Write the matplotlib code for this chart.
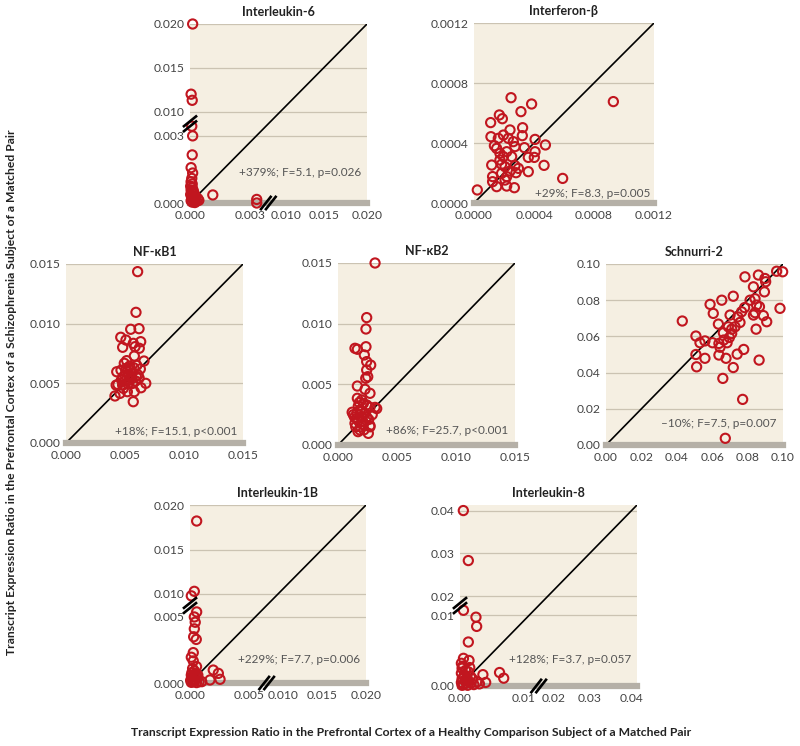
#!/usr/bin/env python3
"""
Matched-pair scatter panels: schizophrenia vs healthy comparison transcript ratios.
"""

import numpy as np
import matplotlib
matplotlib.use("Agg")
import matplotlib.pyplot as plt
import matplotlib.transforms as mtransforms

plt.rcParams['font.family'] = ['Lato', 'DejaVu Sans']

# ---- data (healthy x, schizophrenia y) ----
il6_x = [0.00012, 0.00005, 0.00010, 0.00008, 0.00012, 0.00010, 0.00005, 0.00012, 0.00008, 0.00005,
         0.00010, 0.00003, 0.00010, 0.00005, 0.00015, 0.00008, 0.00020, 0.00003, 0.00012, 0.00025,
         0.00035, 0.00018, 0.00005, 0.00030, 0.00010, 0.00022, 0.00040, 0.00015, 0.00008, 0.00103,
         0.0031, 0.0031]
il6_y = [0.0200, 0.0120, 0.0113, 0.0058, 0.0030, 0.00215, 0.00158, 0.00134, 0.00110, 0.00095,
         0.00085, 0.00075, 0.00068, 0.00058, 0.00055, 0.00048, 0.00040, 0.00038, 0.00030, 0.00025,
         0.00020, 0.00012, 0.00010, 0.00008, 0.00004, 0.00002, 0.00012, 0.00018, 0.00022, 0.00036,
         0.00016, 0.00000]

ifnb_x = [0.000022, 0.000247, 0.000384, 0.000313, 0.000929, 0.000111, 0.000169, 0.000189, 0.000324,
          0.000113, 0.000196, 0.000322, 0.000407, 0.000476, 0.000136, 0.000229, 0.000262, 0.000273,
          0.000336, 0.000407, 0.000151, 0.000173, 0.000218, 0.000173, 0.000251, 0.000362, 0.000402,
          0.000118, 0.000184, 0.000207, 0.000273, 0.000296, 0.000467, 0.000362, 0.000280, 0.000240,
          0.000124, 0.000124, 0.000207, 0.000218, 0.000591, 0.000151, 0.000218, 0.000269, 0.000184,
          0.000196, 0.000162, 0.000240]
ifnb_y = [0.000087, 0.000702, 0.000660, 0.000609, 0.000676, 0.000536, 0.000587, 0.000562, 0.000502,
          0.000442, 0.000453, 0.000449, 0.000424, 0.000387, 0.000382, 0.000431, 0.000409, 0.000376,
          0.000369, 0.000342, 0.000364, 0.000331, 0.000342, 0.000287, 0.000309, 0.000304, 0.000304,
          0.000253, 0.000258, 0.000242, 0.000249, 0.000231, 0.000251, 0.000209, 0.000202, 0.000213,
          0.000176, 0.000142, 0.000153, 0.000176, 0.000164, 0.000109, 0.000113, 0.000102, 0.000198,
          0.000309, 0.000431, 0.000487]

nfkb1_x = [6.07, 5.93, 5.48, 6.19, 4.64, 5.08, 4.80, 5.70, 6.33, 5.85, 6.21, 5.79, 6.61, 5.14, 4.94,
           4.30, 4.66, 5.10, 5.50, 5.00, 5.30, 5.55, 4.85, 5.95, 6.30, 4.40, 4.25, 4.80, 5.25, 6.36,
           6.76, 4.86, 5.20, 5.79, 4.58, 4.15, 5.70, 5.60, 5.40, 6.00, 5.20, 5.75, 5.90, 5.35, 6.10,
           5.00, 4.70, 5.65, 6.20, 5.45]
nfkb1_y = [14.36, 10.95, 9.53, 9.58, 8.86, 8.63, 8.02, 8.35, 8.49, 8.07, 7.94, 7.29, 6.87, 6.90, 6.68,
           5.97, 6.10, 6.25, 6.10, 5.70, 5.70, 5.80, 5.55, 5.60, 6.20, 4.90, 4.85, 4.85, 4.95, 4.63,
           5.00, 4.58, 4.30, 4.30, 4.16, 3.94, 3.46, 5.40, 6.45, 6.50, 6.00, 6.30, 5.20, 5.25, 5.70,
           5.20, 5.30, 5.00, 5.45, 5.55]

nfkb2_x = [3.14, 2.43, 2.37, 1.44, 1.64, 2.37, 2.23, 2.43, 2.77, 2.43, 2.52, 2.35, 1.64, 2.29, 2.71,
           1.64, 2.01, 2.15, 1.72, 2.43, 1.86, 1.30, 1.20, 2.71, 3.14, 3.28, 2.01, 2.43, 1.72, 1.44,
           2.15, 2.71, 1.86, 2.57, 2.71, 1.58, 1.50, 2.00, 1.80, 2.30, 1.60, 2.10, 1.40, 2.60, 1.90,
           1.70, 2.20, 2.90]
nfkb2_y = [15.0, 10.5, 9.56, 7.97, 7.89, 8.10, 7.42, 6.87, 6.59, 6.18, 5.63, 5.50, 4.86, 4.59, 4.26,
           3.85, 3.71, 3.43, 3.20, 3.30, 2.88, 2.50, 2.70, 3.10, 3.10, 3.00, 2.34, 2.30, 2.00, 1.79,
           1.70, 1.60, 1.24, 0.96, 1.50, 2.20, 1.50, 2.80, 3.50, 2.60, 2.60, 1.95, 2.30, 2.10, 1.50,
           1.10, 1.25, 2.50]

shn2_x = [0.0431, 0.0508, 0.0508, 0.0512, 0.0531, 0.0559, 0.0559, 0.0588, 0.0606, 0.0602, 0.0635,
          0.0638, 0.0644, 0.0638, 0.0654, 0.0660, 0.0663, 0.0678, 0.0691, 0.0697, 0.0710, 0.0701,
          0.0719, 0.0719, 0.0729, 0.0741, 0.0745, 0.0757, 0.0766, 0.0778, 0.0785, 0.0772, 0.0783,
          0.0814, 0.0833, 0.0833, 0.0842, 0.0848, 0.0851, 0.0861, 0.0865, 0.0867, 0.0842, 0.0889,
          0.0898, 0.0902, 0.0895, 0.0908, 0.0964, 0.0998, 0.0983, 0.0674, 0.0665, 0.0684, 0.0710]
shn2_y = [0.0685, 0.0602, 0.0500, 0.0432, 0.0565, 0.0575, 0.0479, 0.0777, 0.0727, 0.0565, 0.0668,
          0.0561, 0.0540, 0.0497, 0.0800, 0.0368, 0.0620, 0.0479, 0.0653, 0.0594, 0.0616, 0.0718,
          0.0822, 0.0428, 0.0653, 0.0502, 0.0708, 0.0677, 0.0736, 0.0528, 0.0929, 0.0252, 0.0759,
          0.0800, 0.0874, 0.0718, 0.0808, 0.0640, 0.0773, 0.0939, 0.0469, 0.0764, 0.0731, 0.0715,
          0.0920, 0.0902, 0.0846, 0.0681, 0.0960, 0.0957, 0.0755, 0.0037, 0.0580, 0.0565, 0.0640]

il1b_x = [0.00051, 0.00033, 0.00010, 0.00051, 0.00033, 0.00040, 0.00033, 0.00028, 0.00048, 0.00025,
          0.00010, 0.00025, 0.00050, 0.00020, 0.00035, 0.00015, 0.00045, 0.00010, 0.00030, 0.00060,
          0.00020, 0.00005, 0.00040, 0.00070, 0.00025, 0.00010, 0.00050, 0.00090, 0.00153, 0.00178,
          0.00217, 0.00230, 0.00015, 0.00060]
il1b_y = [0.0182, 0.0103, 0.0096, 0.0061, 0.0050, 0.0046, 0.0041, 0.0035, 0.0033, 0.0023,
          0.00195, 0.00167, 0.00124, 0.0011, 0.0009, 0.0008, 0.0007, 0.0006, 0.0005, 0.0004,
          0.0003, 0.0002, 0.0002, 0.0001, 0.0001, 0.00005, 0.00003, 0.0001, 0.00023, 0.00098,
          0.00073, 0.00028, 0.00045, 0.0006]

il8_x = [0.00048, 0.0012, 0.0005, 0.0023, 0.0024, 0.0012, 0.0005, 0.0013, 0.0002, 0.0033, 0.0057,
         0.0063, 0.0037, 0.0003, 0.0008, 0.0012, 0.0002, 0.0006, 0.0015, 0.0010, 0.0003, 0.0018,
         0.0007, 0.0012, 0.0025, 0.0002, 0.0009, 0.0016, 0.0005, 0.0020, 0.0011, 0.0003, 0.0028,
         0.0014, 0.0004]
il8_y = [0.040, 0.0283, 0.0125, 0.0097, 0.0084, 0.0062, 0.0039, 0.0036, 0.0032, 0.0016, 0.0019,
         0.0011, 0.0005, 0.0025, 0.0022, 0.0020, 0.0018, 0.0015, 0.0014, 0.0012, 0.0010, 0.0010,
         0.0008, 0.0007, 0.0006, 0.0005, 0.0004, 0.0004, 0.0002, 0.0002, 0.0001, 0.0001, 0.0003,
         0.0026, 0.0028]

# ---- panel settings ----
BG = '#f5efe2'
GRID = '#cbc3b2'
BAND = '#b5b0a7'
RED = '#c1161f'
TXT = '#444444'


def piecewise(kx, ky):
    kx = np.asarray(kx, float)
    ky = np.asarray(ky, float)

    def _map(v, a, b):
        v = np.asarray(v, float)
        out = np.interp(v, a, b)
        out = np.where(v < a[0], b[0] + (v - a[0]) * (b[1] - b[0]) / (a[1] - a[0]), out)
        out = np.where(v > a[-1], b[-1] + (v - a[-1]) * (b[-1] - b[-2]) / (a[-1] - a[-2]), out)
        return out

    return (lambda v: _map(v, kx, ky)), (lambda v: _map(v, ky, kx))


def break_marks(ax, pos, axis):
    # two short parallel slashes across a broken axis
    d = 0.04
    for off in (-0.014, 0.014):
        if axis == 'y':
            xs = [-d, d]
            ys = [pos + off - d * 0.8, pos + off + d * 0.8]
        else:
            xs = [pos + off - d * 0.8, pos + off + d * 0.8]
            ys = [-d, d]
        ax.plot(xs, ys, transform=ax.transAxes, color='black', lw=1.9,
                clip_on=False, zorder=6, solid_capstyle='butt')


def panel(fig, rect, title, x, y, lim, ticks, labels, note, note_pos, knots=None):
    ax = fig.add_axes(rect)
    ax.set_facecolor(BG)
    if knots is not None:
        fwd, inv = piecewise(knots[0], knots[1])
        ax.set_xscale('function', functions=(fwd, inv))
        ax.set_yscale('function', functions=(fwd, inv))
    ax.set_xlim(0, lim)
    ax.set_ylim(0, lim)
    ax.set_xticks(ticks)
    ax.set_xticklabels(labels)
    ax.set_yticks(ticks)
    ax.set_yticklabels(labels)
    ax.yaxis.grid(True, color=GRID, lw=0.9)
    ax.set_axisbelow(True)
    for s in ('left', 'top', 'right'):
        ax.spines[s].set_visible(False)
    ax.spines['bottom'].set_color(BAND)
    ax.spines['bottom'].set_linewidth(4.5)
    ax.tick_params(length=0, labelsize=8.7, labelcolor=TXT, pad=4)
    ax.tick_params(axis='x', pad=5)
    ax.plot([0, lim], [0, lim], color='black', lw=1.2, zorder=2)
    ax.scatter(x, y, s=44, facecolors='none', edgecolors=RED, linewidths=1.5,
               zorder=4, clip_on=False)
    ax.set_title(title, fontsize=9, fontweight='bold', color='#222222', pad=6)
    ax.text(note_pos[0], note_pos[1], note, transform=ax.transAxes, ha='right',
            va='center', fontsize=8.5, color='#555555')
    if knots is not None:
        gap = 0.5 * (knots[1][1] + knots[1][2])
        break_marks(ax, gap, 'y')
        break_marks(ax, gap, 'x')
        # squeeze the two x labels on either side of the break apart
        xl = ax.get_xticklabels()
        for lab, dx in ((xl[1], -4.5), (xl[2], 4.0)):
            lab.set_transform(lab.get_transform() + mtransforms.ScaledTranslation(
                dx / 72.0, 0, fig.dpi_scale_trans))
    return ax


fig = plt.figure(figsize=(8, 7.46), dpi=100)
W, H = 800.0, 746.0


def rect(left, top, right, bottom):
    return [left / W, 1 - bottom / H, (right - left) / W, (bottom - top) / H]


panel(fig, rect(190, 24, 367, 203), 'Interleukin-6', il6_x, il6_y, 0.020,
      [0, 0.003, 0.010, 0.015, 0.020], ['0.000', '0.003', '0.010', '0.015', '0.020'],
      '+379%; F=5.1, p=0.026', (0.97, 0.168),
      knots=([0, 0.003, 0.010, 0.020], [0, 0.375, 0.51, 1.0]))

panel(fig, rect(474, 23, 654, 203), 'Interferon-\u03b2', ifnb_x, ifnb_y, 0.0012,
      [0, 0.0004, 0.0008, 0.0012], ['0.0000', '0.0004', '0.0008', '0.0012'],
      '+29%; F=8.3, p=0.005', (0.98, 0.055))

panel(fig, rect(66, 264, 243, 443), 'NF-\u03baB1', np.array(nfkb1_x) / 1000,
      np.array(nfkb1_y) / 1000, 0.015,
      [0, 0.005, 0.010, 0.015], ['0.000', '0.005', '0.010', '0.015'],
      '+18%; F=15.1, p<0.001', (0.97, 0.067))

panel(fig, rect(338, 263, 515, 445), 'NF-\u03baB2', np.array(nfkb2_x) / 1000,
      np.array(nfkb2_y) / 1000, 0.015,
      [0, 0.005, 0.010, 0.015], ['0.000', '0.005', '0.010', '0.015'],
      '+86%; F=25.7, p<0.001', (0.96, 0.077))

panel(fig, rect(606, 264, 783, 445), 'Schnurri-2', shn2_x, shn2_y, 0.10,
      [0, 0.02, 0.04, 0.06, 0.08, 0.10], ['0.00', '0.02', '0.04', '0.06', '0.08', '0.10'],
      '\u201310%; F=7.5, p=0.007', (0.965, 0.12))

panel(fig, rect(190, 505, 366, 683), 'Interleukin-1B', il1b_x, il1b_y, 0.020,
      [0, 0.005, 0.010, 0.015, 0.020], ['0.000', '0.005', '0.010', '0.015', '0.020'],
      '+229%; F=7.7, p=0.006', (0.965, 0.13),
      knots=([0, 0.005, 0.010, 0.020], [0, 0.371, 0.50, 1.0]))

panel(fig, rect(460, 505, 637, 686), 'Interleukin-8', il8_x, il8_y, 0.0413,
      [0, 0.01, 0.02, 0.03, 0.04], ['0.00', '0.01', '0.02', '0.03', '0.04'],
      '+128%; F=3.7, p=0.057', (0.965, 0.144),
      knots=([0, 0.01, 0.02, 0.0413], [0, 0.392, 0.497, 1.0]))

fig.text(12 / W, 1 - 392 / H,
         'Transcript Expression Ratio in the Prefrontal Cortex of a Schizophrenia Subject of a Matched Pair',
         rotation=90, ha='center', va='center', fontsize=8.7, fontweight='bold', color='#222222')
fig.text(411 / W, 1 - 733 / H,
         'Transcript Expression Ratio in the Prefrontal Cortex of a Healthy Comparison Subject of a Matched Pair',
         ha='center', va='center', fontsize=8.7, fontweight='bold', color='#222222')

fig.savefig('out.png', dpi=100)
